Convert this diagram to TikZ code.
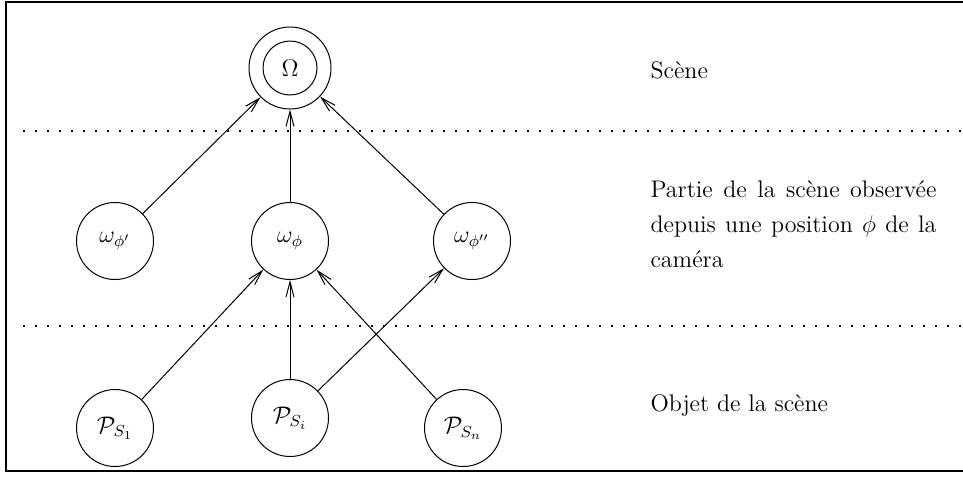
\documentclass[tikz,border=0pt]{standalone}
\usetikzlibrary{arrows.meta}

\tikzset{
  etat/.style={draw, circle, inner sep=0pt, minimum size=38.5pt},
  niveau/.style={line width=0.8pt, dash pattern=on 0.8pt off 5.2pt},
  legende/.style={anchor=base west, inner sep=0pt}
}

\begin{document}
\begin{tikzpicture}[x=0.5pt, y=-0.5pt, line width=0.5pt,
    font=\fontsize{12}{17.5}\selectfont,
    >={Straight Barb[length=7.5pt,width=4pt]}]
  \useasboundingbox (0,0) rectangle (963,500);
  % cadre
  \draw[line width=1.4pt] (963,2) -- (6,2) -- (6,471) -- (963,471);
  % niveaux
  \draw[niveau] (23,131) -- (963,131);
  \draw[niveau] (23,326) -- (963,326);
  % scene
  \node[etat, minimum size=41pt] (Om) at (290,68) {};
  \node[etat, minimum size=27pt] (OmIn) at (Om) {$\Omega$};
  % parties
  \node[etat] (W1) at (115,241) {$\omega_{\phi'}$};
  \node[etat] (W) at (290,241) {$\omega_{\phi}$};
  \node[etat] (W2) at (472,241) {$\omega_{\phi''}$};
  % objets
  \node[etat] (P1) at (115,428) {$\mathcal{P}_{S_1}$};
  \node[etat] (Pi) at (290,418) {$\mathcal{P}_{S_i}$};
  \node[etat] (Pn) at (463,428) {$\mathcal{P}_{S_n}$};
  \draw[->] (W1) -- (Om);
  \draw[->] (W) -- (Om);
  \draw[->] (W2) -- (Om);
  \draw[->] (P1) -- (W);
  \draw[->] (Pi) -- (W);
  \draw[->] (Pn) -- (W);
  \draw[->] (Pi) -- (W2);
  % legendes
  \node[legende] (LScene) at (650,78) {Scène};
  \node[legende, text width=143pt, align=justify] (LPartie) at (650,197)
    {Partie de la scène observée\linebreak depuis une position $\phi$ de la\linebreak caméra};
  \node[legende] (LObjet) at (650,411) {Objet de la scène};
\end{tikzpicture}
\end{document}
